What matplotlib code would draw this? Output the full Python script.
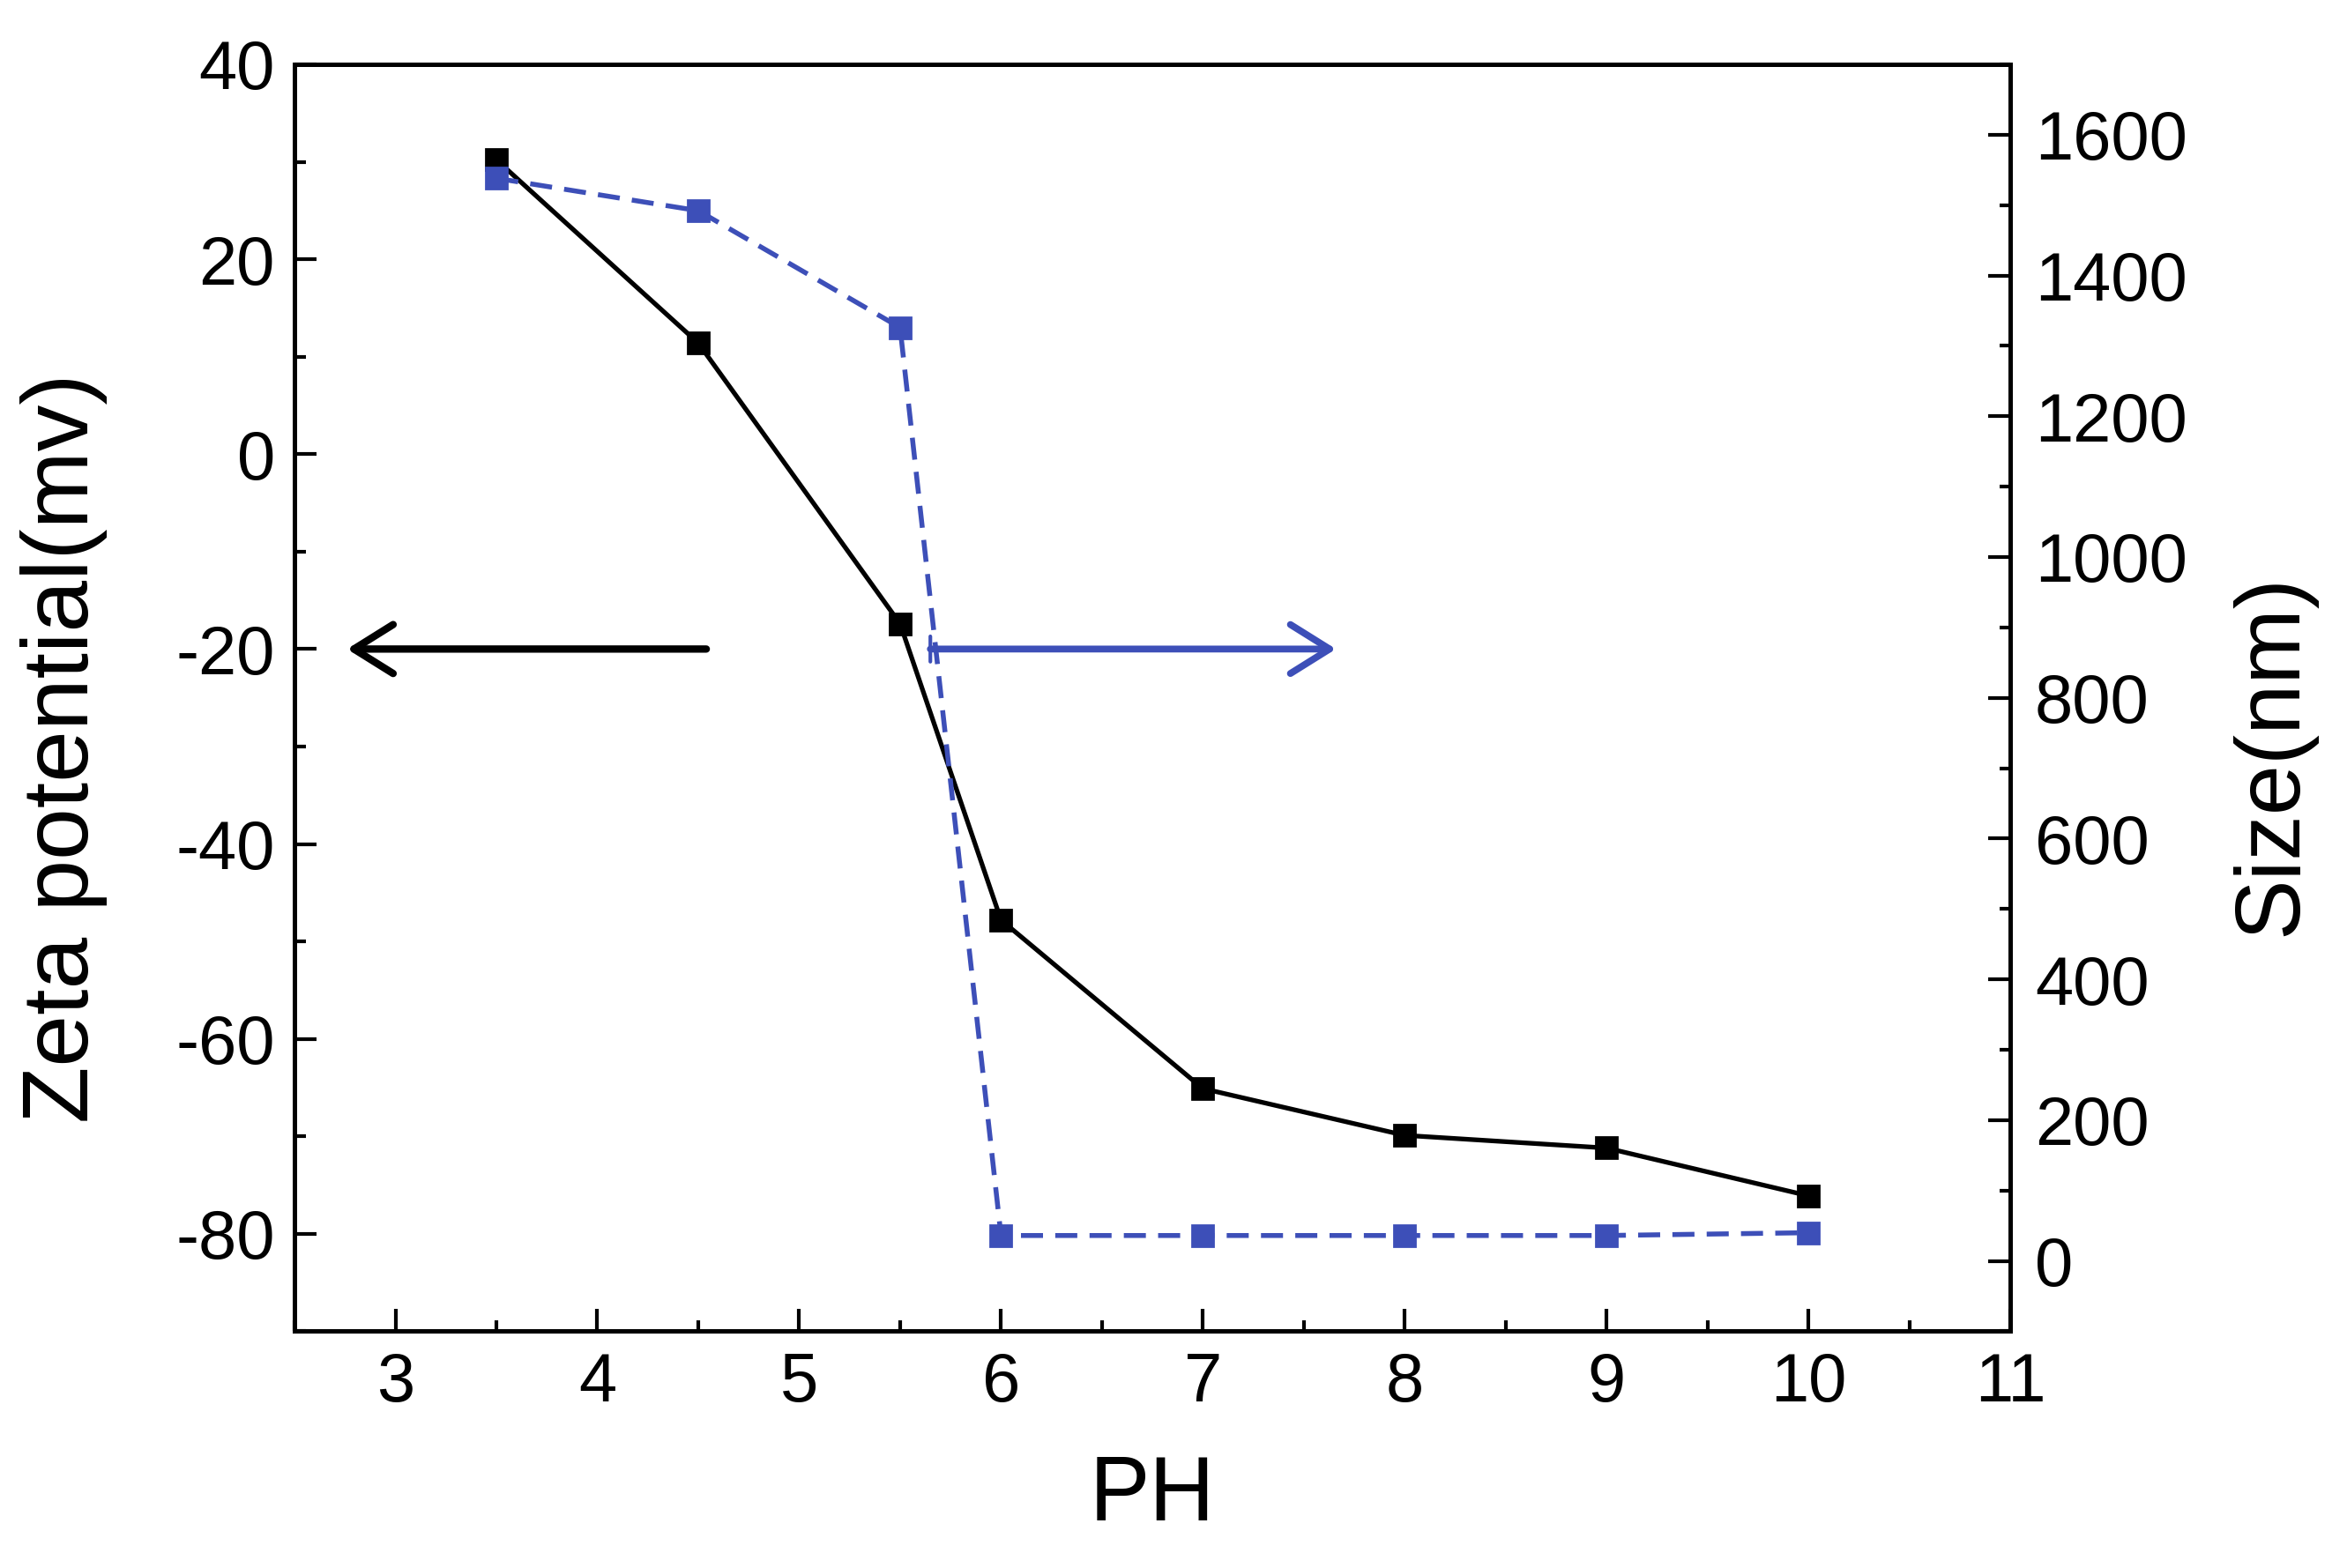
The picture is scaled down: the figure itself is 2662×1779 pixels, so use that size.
import numpy as np
import matplotlib.pyplot as plt

# Datos
ph = [3.5, 4.5, 5.5, 6, 7, 8, 9, 10]
zeta = [30.2, 11.4, -17.4, -47.8, -65.1, -69.9, -71.2, -76.1]
size_nm = [1538, 1492, 1326, 36, 36, 36, 36, 40]

azul = '#3d4fb8'
plt.rcParams['font.family'] = ['Liberation Sans', 'DejaVu Sans']
plt.rcParams['axes.unicode_minus'] = False


def zeta_plot():
    fig = plt.figure(figsize=(13.31, 8.895), dpi=200)
    ax = fig.add_axes([0.1255, 0.151, 0.731, 0.808])
    ax2 = ax.twinx()

    # Potencial zeta (eje izquierdo)
    ax.plot(ph, zeta, color='black', lw=1.9, marker='s', ms=8.5, zorder=3)
    # Tamano (eje derecho)
    ax2.plot(ph, size_nm, color=azul, lw=2.0, ls=(0, (4.5, 2.5)),
             marker='s', ms=8.5, zorder=3)

    ax.set_xlim(2.5, 11)
    ax.set_ylim(-90, 40)
    ax2.set_ylim(-100, 1700)

    ax.set_xticks(np.arange(3, 12, 1))
    ax.set_xticks(np.arange(2.5, 11.01, 0.5), minor=True)
    ax.set_yticks(np.arange(-80, 41, 20))
    ax.set_yticks(np.arange(-90, 41, 10), minor=True)
    ax2.set_yticks(np.arange(0, 1601, 200))
    ax2.set_yticks(np.arange(-100, 1701, 100), minor=True)

    ax.tick_params(axis='both', which='major', direction='in', length=9,
                   width=1.5, labelsize=28, top=False, right=False, pad=8)
    ax.tick_params(axis='both', which='minor', direction='in', length=4.5,
                   width=1.5, top=False, right=False)
    ax2.tick_params(axis='y', which='major', direction='in', length=9,
                    width=1.5, labelsize=28, pad=10)
    ax2.tick_params(axis='y', which='minor', direction='in', length=4.5,
                    width=1.5)

    for a in (ax, ax2):
        for s in a.spines.values():
            s.set_linewidth(1.8)

    ax.set_xlabel('PH', fontsize=37, labelpad=16)
    ax.set_ylabel('Zeta potential(mv)', fontsize=38)
    ax2.set_ylabel('Size(nm)', fontsize=37)
    ax.yaxis.set_label_coords(-0.109, 0.46)
    ax2.yaxis.set_label_coords(1.128, 0.455)

    # Flechas indicando el eje de cada curva
    estilo = '->, head_length=0.4, head_width=0.25'
    ax.annotate('', xy=(2.76, -20), xytext=(4.54, -20),
                arrowprops=dict(arrowstyle=estilo, color='black', lw=3,
                                mutation_scale=40, shrinkA=0, shrinkB=0))
    ax.annotate('', xy=(7.66, -20), xytext=(5.65, -20),
                arrowprops=dict(arrowstyle=estilo, color=azul, lw=2.8,
                                mutation_scale=40, shrinkA=0, shrinkB=0))
    # pequena marca al inicio de la flecha azul
    ax.annotate('', xy=(5.65, -21.3), xytext=(5.65, -18.7),
                arrowprops=dict(arrowstyle='-', color=azul, lw=1.5,
                                shrinkA=0, shrinkB=0))

    fig.savefig('out.png', dpi=200)


if __name__ == '__main__':
    zeta_plot()
